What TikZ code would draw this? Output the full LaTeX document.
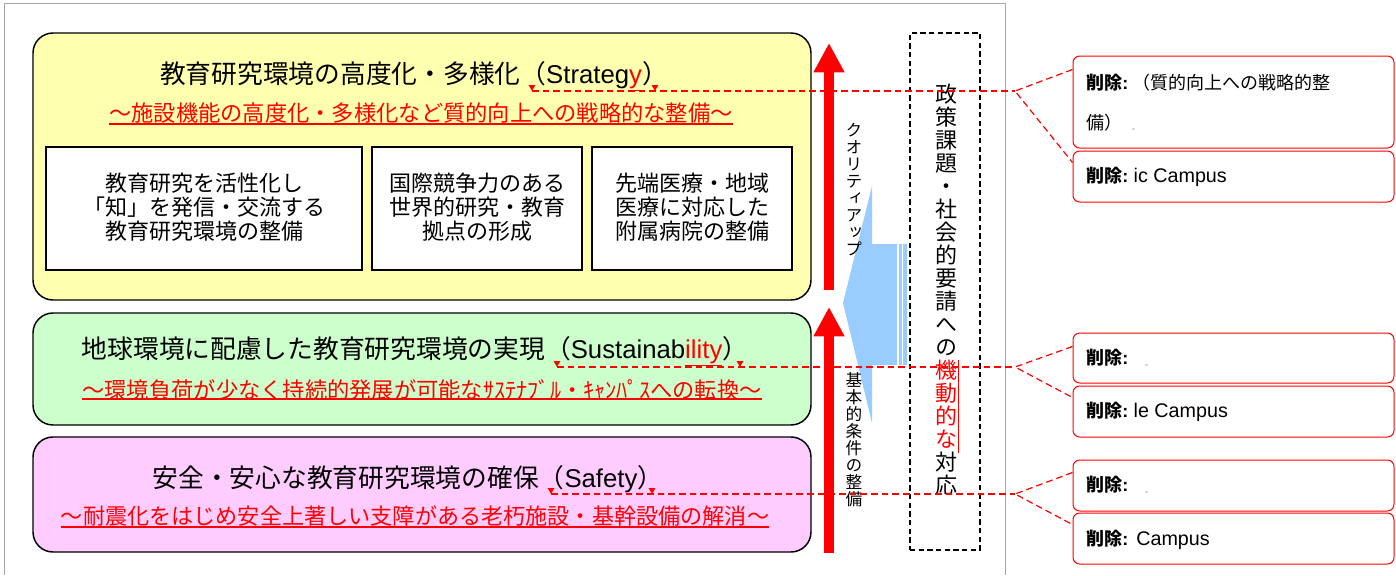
\documentclass[tikz,border=0pt]{standalone}
\usepackage{fontspec}
\setmainfont{Noto Sans CJK JP}
\newfontfamily\en{Liberation Sans}
\newfontfamily\jpv[RawFeature=+vert]{Noto Sans CJK JP}
\newcommand\notelatin[1]{{\en\fontsize{14.8}{16}\selectfont #1}}
\usetikzlibrary{arrows.meta, positioning, fit, calc, shapes.geometric}
\tikzset{panel/.style={draw, line width=1.1pt, rounded corners=15pt, inner sep=0pt}}
\tikzset{goalbox/.style={draw, fill=white, line width=1.1pt, inner sep=0pt}}
\tikzset{goaltext/.style={inner sep=0pt, align=center, font=\fontsize{16.5}{18}\selectfont}}
\tikzset{headline/.style={inner sep=0pt, font=\fontsize{19.3}{22}\selectfont}}
\tikzset{subline/.style={inner sep=0pt, text=red, font=\fontsize{16.7}{20}\selectfont}}
\tikzset{uline/.style={red, line width=1.5pt}}
\tikzset{upline/.style={red, line width=7.5pt, -{Triangle[width=21.75pt, length=22pt]}}}
\tikzset{vlabel/.style={inner sep=0pt, align=center, font=\jpv\fontsize{12.5}{12.75}\selectfont}}
\tikzset{vtitle/.style={inner sep=0pt, align=center, font=\jpv\fontsize{16.5}{17.25}\selectfont}}
\tikzset{revline/.style={red, line width=0.9pt, dash pattern=on 5pt off 3pt}}
\tikzset{revmark/.style={fill=red, regular polygon, regular polygon sides=3, shape border rotate=180, inner sep=0pt, minimum size=6pt}}
\tikzset{note/.style={draw=red, line width=0.75pt, rounded corners=5pt, inner sep=0pt}}
\tikzset{notetext/.style={anchor=west, inner sep=0pt, align=left, font=\fontsize{13.5}{16}\selectfont}}
\definecolor{stratyellow}{HTML}{FFFFB0}
\definecolor{sustgreen}{HTML}{CCFFCC}
\definecolor{safepink}{HTML}{FFCCFF}
\definecolor{upblue}{HTML}{99CCFF}
\begin{document}
\begin{tikzpicture}[x=0.75pt, y=-0.75pt]
\useasboundingbox (0,0) rectangle (1396,575);
\draw[gray!70, line width=0.75pt] (4,575) -- (4,3) -- (1005,3) -- (1005,575);

% three levels
\node[panel, fill=stratyellow, fit={(33,33) (811,300)}] (strat) {};
\node[panel, fill=sustgreen, fit={(33,313) (811,425)}] (sust) {};
\node[panel, fill=safepink, fit={(33,437) (811,552)}] (safe) {};

\node[headline] (strat-t) at (414,76) {教育研究環境の高度化・多様化（{\en Strateg\textcolor{red}{\underline{y}}}）};
\node[headline] (sust-t) at (415,351) {地球環境に配慮した教育研究環境の実現（{\en Sustainab\textcolor{red}{\underline{ility}}}）};
\node[headline] (safe-t) at (408,479) {安全・安心な教育研究環境の確保（{\en Safety}）};

\node[subline] (strat-s) at (421,113) {～施設機能の高度化・多様化など質的向上への戦略的な整備～};
\node[subline] (sust-s) at (422,390) {～環境負荷が少なく持続的発展が可能なｻｽﾃﾅﾌﾞﾙ・ｷｬﾝﾊﾟｽへの転換～};
\node[subline, font=\fontsize{16.6}{20}\selectfont] (safe-s) at (415,516) {～耐震化をはじめ安全上著しい支障がある老朽施設・基幹設備の解消～};
\draw[uline] (strat-s.west |- 0,124) -- (strat-s.east |- 0,124);
\draw[uline] (sust-s.west |- 0,399) -- (sust-s.east |- 0,399);
\draw[uline, line width=0.9pt] (safe-s.west |- 0,527) -- (safe-s.east |- 0,527);

\node[goalbox, fit={(46,147) (362,270)}] (g1) {};
\node[goalbox, fit={(372,147) (582,270)}] (g2) {};
\node[goalbox, fit={(592,147) (792,270)}] (g3) {};
\node[goaltext] (g1-t) at (204,207) {教育研究を活性化し\\「知」を発信・交流する\\教育研究環境の整備};
\node[goaltext] (g2-t) at (477,207) {国際競争力のある\\世界的研究・教育\\拠点の形成};
\node[goaltext] (g3-t) at (692,207) {先端医療・地域\\医療に対応した\\附属病院の整備};

% arrows
\coordinate (qa0) at (829,290);
\coordinate (qa1) at (829,43);
\coordinate (qb0) at (829,553);
\coordinate (qb1) at (829,307);
\draw[upline] (qa0) -- (qa1);
\draw[upline] (qb0) -- (qb1);

\fill[upblue] (843,303) -- (872,186) -- (872,244) -- (897,244) -- (897,365) -- (872,365) -- (872,423) -- cycle;
\fill[upblue] (898.5,244) rectangle (901.5,365);
\fill[upblue] (903,244) rectangle (907,365);

\node[vlabel] (qual) at (854,190) {ク\\オ\\リ\\テ\\ィ\\ア\\ッ\\プ};
\node[vlabel] (basic) at (854,440) {基\\本\\的\\条\\件\\の\\整\\備};

\node[draw, line width=1.1pt, dash pattern=on 4pt off 2.5pt, inner sep=0pt, fit={(910,33) (980,550)}] (policy) {};
\node[vtitle] (policy-t) at (946,290) {政\\策\\課\\題\\・\\社\\会\\的\\要\\請\\へ\\の\\\textcolor{red}{機}\\\textcolor{red}{動}\\\textcolor{red}{的}\\\textcolor{red}{な}\\対\\応};
\draw[red, line width=0.75pt] (958,360) -- (958,453);

% comment balloons
\node[note, fit={(1073,56) (1394,148)}] (b1) {};
\node[note, fit={(1073,151) (1394,202)}] (b2) {};
\node[note, fit={(1073,333) (1394,383)}] (b3) {};
\node[note, fit={(1073,386) (1394,437)}] (b4) {};
\node[note, fit={(1073,460) (1394,511)}] (b5) {};
\node[note, fit={(1073,513) (1394,564)}] (b6) {};

\node[notetext, font=\fontsize{13.5}{30}\selectfont] (b1-t) at (1086,103) {\textbf{削除{\en :}}\ （質的向上への戦略的整\\備）};
\node[notetext] (b2-t) at (1086,177) {\textbf{削除{\en :}} \notelatin{ic Campus}};
\node[notetext] (b3-t) at (1086,358) {\textbf{削除{\en :}}};
\node[notetext] (b4-t) at (1086,412) {\textbf{削除{\en :}} \notelatin{le Campus}};
\node[notetext] (b5-t) at (1086,485) {\textbf{削除{\en :}}};
\node[notetext] (b6-t) at (1086,540) {\textbf{削除{\en :}}\ \ \notelatin{Campus}};
\fill[gray!30] (1132,128) rectangle (1135,130);
\fill[gray!30] (1145,364) rectangle (1148,366);
\fill[gray!30] (1145,491) rectangle (1148,493);

% revision marks
\node[revmark] (ma1) at (532,87) {};
\node[revmark] (ma2) at (655,87) {};
\node[revmark] (mb1) at (557,363) {};
\node[revmark] (mb2) at (740,363) {};
\node[revmark] (mc1) at (551,490) {};
\node[revmark] (mc2) at (652,490) {};
\coordinate (ja) at (1015,91);
\coordinate (jb) at (1015,367);
\coordinate (jc) at (1015,494);
\draw[revline] (ma1.south |- ja) -- (ja);
\draw[revline] (mb1.south |- jb) -- (jb);
\draw[revline] (mc1.south |- jc) -- (jc);
\draw[revline] ($(b1.north west)+(0,14)$) -- (ja) -- ($(b2.north west)+(0,12)$);
\draw[revline] ($(b3.north west)+(0,14)$) -- (jb) -- ($(b4.north west)+(0,12)$);
\draw[revline] ($(b5.north west)+(0,13)$) -- (jc) -- ($(b6.north west)+(0,12)$);
\end{tikzpicture}
\end{document}
